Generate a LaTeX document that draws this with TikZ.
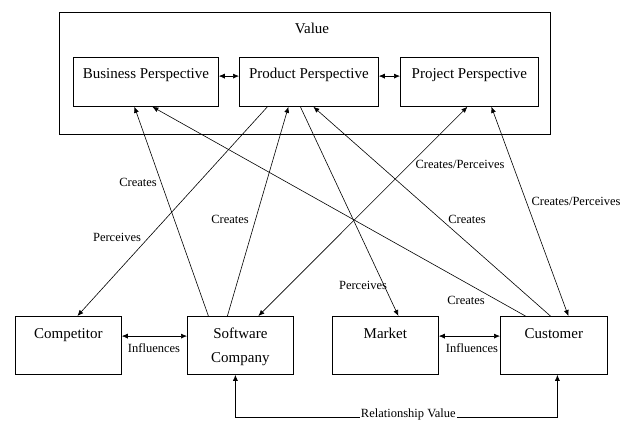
\documentclass[tikz,border=0pt]{standalone}
\usepackage{fontspec}
\setmainfont{Liberation Serif}
\usetikzlibrary{arrows.meta}

\tikzset{
  box/.style={draw, line width=0.8pt, inner sep=3pt, font=\fontsize{15}{18}\selectfont},
  topbox/.style={box, anchor=north west, text height=18pt, text depth=25pt},
  botbox/.style={box, anchor=north west, text height=19pt, text depth=33pt},
  lbl/.style={font=\fontsize{12.5}{15}\selectfont, inner sep=1pt},
  link/.style={line width=0.6pt, -{Latex[length=6pt,width=5pt]}},
  both/.style={line width=0.6pt, {Latex[length=6pt,width=5pt]}-{Latex[length=6pt,width=5pt]}},
}

\begin{document}
\begin{tikzpicture}[x=1pt,y=-1pt]
  \useasboundingbox (0,0) rectangle (627,423);
  % value frame
  \node[draw, line width=0.8pt, anchor=north west, minimum width=491pt, minimum height=122pt] (val) at (59,12) {};
  \node[font=\fontsize{15}{18}\selectfont] (valtitle) at (312,28) {Value};
  \node[topbox, minimum width=145pt] (bus) at (73,57) {Business Perspective};
  \node[topbox, minimum width=139pt] (prod) at (239,57) {Product Perspective};
  \node[topbox, minimum width=138pt] (proj) at (400,57) {Project Perspective};
  % actors
  \node[botbox, minimum width=106pt] (comp) at (15,316) {Competitor};
  \node[botbox, minimum width=106pt] (soft) at (187,316) {\begin{tabular}[t]{@{}c@{}}Software\\[6pt]Company\end{tabular}};
  \node[botbox, minimum width=106pt] (mkt) at (332,316) {Market};
  \node[botbox, minimum width=107pt] (cust) at (500,316) {Customer};
  % perspectives
  \draw[both] (bus.mid east) -- (prod.mid west);
  \draw[both] (prod.mid east) -- (proj.mid west);
  \draw[both] (comp.mid east) -- (soft.mid west);
  \draw[both] (mkt.mid east) -- (cust.mid west);
  % links
  \draw[link] ([xshift=-32pt]soft.north) -- ([xshift=-11.5pt]bus.south);
  \draw[link] ([xshift=-28.5pt]cust.north) -- ([xshift=6.5pt]bus.south);
  \draw[link] ([xshift=-41.5pt]prod.south) -- ([xshift=9pt]comp.north);
  \draw[link] ([xshift=-13pt]soft.north) -- ([xshift=-20.5pt]prod.south);
  \draw[link] ([xshift=-8.5pt]prod.south) -- ([xshift=13pt]mkt.north);
  \draw[link] ([xshift=-3.5pt]cust.north) -- ([xshift=4.5pt]prod.south);
  \draw[both] ([xshift=18pt]soft.north) -- ([xshift=-2pt]proj.south);
  \draw[both] ([xshift=14.5pt]cust.north) -- ([xshift=22pt]proj.south);
  \draw[both] ([xshift=-5pt]soft.south) -- ++(0,42)
    -- node[lbl, fill=white, pos=0.537, yshift=2pt] (relv) {Relationship Value} ++(322,0)
    -- ([xshift=3.5pt]cust.south);
  % labels
  \node[lbl] (cr1) at (138,182) {Creates};
  \node[lbl] (pe1) at (117,237) {Perceives};
  \node[lbl] (cr2) at (230,219) {Creates};
  \node[lbl] (cp1) at (460,164) {Creates/Perceives};
  \node[lbl] (cr3) at (467,219) {Creates};
  \node[lbl] (cp2) at (576,201) {Creates/Perceives};
  \node[lbl] (pe2) at (363,285) {Perceives};
  \node[lbl] (cr4) at (466,300) {Creates};
  \node[lbl] (in1) at (154,348) {Influences};
  \node[lbl] (in2) at (472,348) {Influences};
\end{tikzpicture}
\end{document}
